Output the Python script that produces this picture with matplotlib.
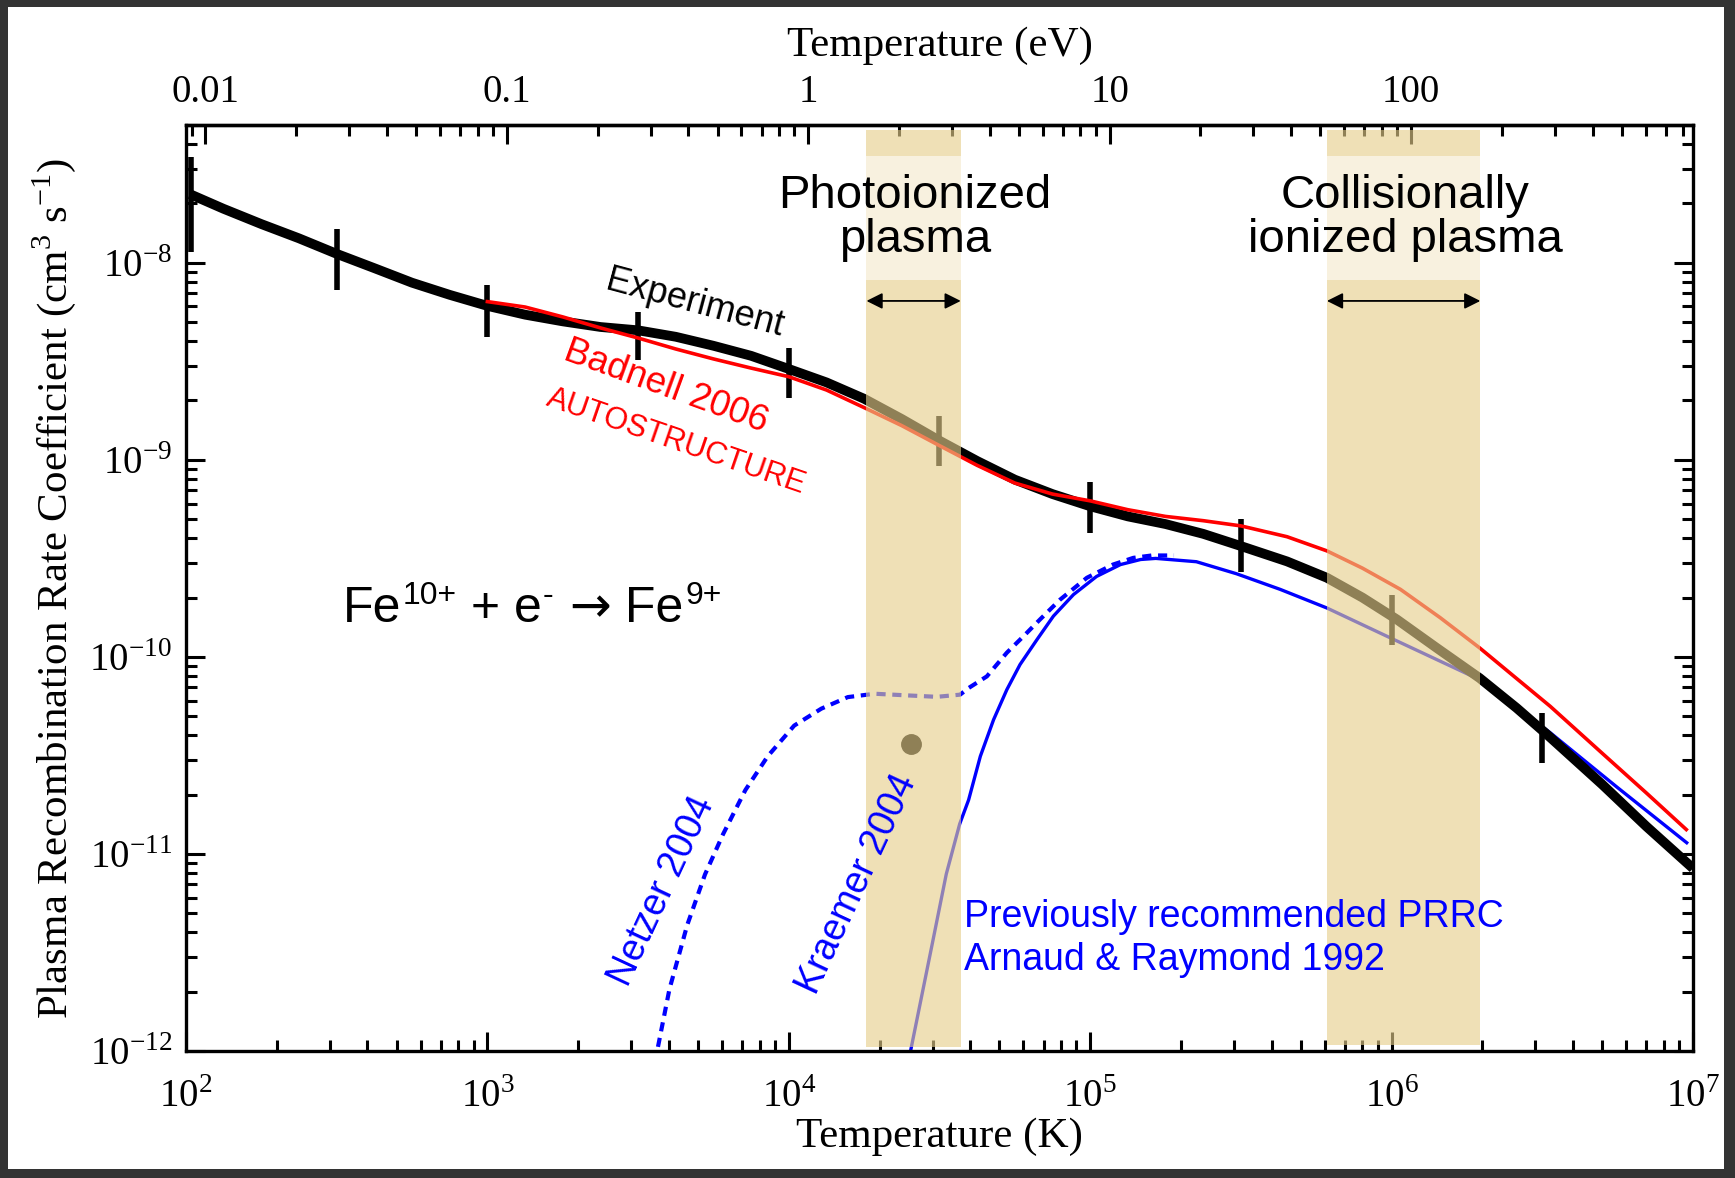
import numpy as np
import matplotlib.pyplot as plt
from matplotlib.patches import Rectangle
from matplotlib.ticker import FuncFormatter, FixedLocator, LogLocator, NullFormatter

plt.rcParams['font.family'] = ['Liberation Serif', 'DejaVu Serif']
plt.rcParams['mathtext.fontset'] = 'custom'
plt.rcParams['mathtext.rm'] = 'Liberation Serif'
SANS = ['Liberation Sans', 'DejaVu Sans']

# experiment (thick black curve) -- temperature in K, rate in cm^3 s^-1
exp_T = [103, 133, 178, 237, 316, 422, 562, 750, 1000, 1334, 1778, 2371, 3162, 4217,
         5623, 7499, 1.0e4, 1.334e4, 1.778e4, 2.371e4, 3.162e4, 4.217e4, 5.623e4,
         7.499e4, 1.0e5, 1.334e5, 1.778e5, 2.371e5, 3.162e5, 4.5e5, 6.1e5, 8.0e5,
         1.04e6, 1.4e6, 1.96e6, 2.6e6, 3.27e6, 5.0e6, 7.0e6, 1.0e7]
exp_R = [2.23e-8, 1.88e-8, 1.57e-8, 1.33e-8, 1.11e-8, 9.38e-9, 7.92e-9, 6.87e-9,
         6.04e-9, 5.45e-9, 5.04e-9, 4.72e-9, 4.54e-9, 4.21e-9, 3.79e-9, 3.37e-9,
         2.89e-9, 2.47e-9, 2.04e-9, 1.61e-9, 1.25e-9, 9.86e-10, 7.93e-10, 6.70e-10,
         5.81e-10, 5.16e-10, 4.72e-10, 4.21e-10, 3.65e-10, 3.05e-10, 2.52e-10, 2.0e-10,
         1.55e-10, 1.12e-10, 7.8e-11, 5.5e-11, 4.05e-11, 2.25e-11, 1.38e-11, 8.45e-12]

# experimental points with error bars
pt_T = [104, 316, 1000, 3162, 1.0e4, 3.162e4, 1.0e5, 3.162e5, 1.0e6, 3.162e6]
pt_R = [2.2e-8, 1.1e-8, 5.9e-9, 4.45e-9, 2.8e-9, 1.24e-9, 5.9e-10, 3.65e-10, 1.55e-10, 3.84e-11]
pt_lo = [1.14e-8, 7.3e-9, 4.2e-9, 3.2e-9, 2.07e-9, 9.25e-10, 4.26e-10, 2.71e-10, 1.15e-10, 2.89e-11]
pt_hi = [3.42e-8, 1.49e-8, 7.7e-9, 5.6e-9, 3.69e-9, 1.66e-9, 7.7e-10, 5.0e-10, 2.07e-10, 5.16e-11]

# Badnell 2006 AUTOSTRUCTURE (red)
bad_T = [1000, 1334, 1778, 2371, 3162, 4217, 5623, 7499, 1.0e4, 1.334e4, 1.778e4,
         2.371e4, 3.162e4, 4.217e4, 5.623e4, 7.499e4, 1.0e5, 1.334e5, 1.778e5,
         2.371e5, 3.162e5, 4.5e5, 6.1e5, 8.0e5, 1.07e6, 1.45e6, 1.96e6, 2.6e6,
         3.36e6, 5.0e6, 7.0e6, 9.5e6]
bad_R = [6.35e-9, 5.96e-9, 5.31e-9, 4.67e-9, 4.15e-9, 3.65e-9, 3.25e-9, 2.92e-9,
         2.64e-9, 2.26e-9, 1.84e-9, 1.49e-9, 1.18e-9, 9.37e-10, 7.62e-10, 6.70e-10,
         6.19e-10, 5.58e-10, 5.16e-10, 4.91e-10, 4.62e-10, 4.07e-10, 3.45e-10,
         2.82e-10, 2.2e-10, 1.58e-10, 1.11e-10, 7.76e-11, 5.61e-11, 3.24e-11,
         2.04e-11, 1.33e-11]

# Arnaud & Raymond 1992 (blue solid)
ar_T = [2.535e4, 3.0e4, 3.33e4, 3.69e4, 3.95e4, 4.32e4, 4.78e4, 5.29e4, 5.85e4, 6.65e4,
        7.55e4, 8.8e4, 1.05e5, 1.26e5, 1.47e5, 1.65e5, 2.25e5, 3.06e5, 4.27e5, 6.1e5,
        1.0e6, 1.96e6, 3.36e6, 5.6e6, 9.53e6]
ar_R = [1.0e-12, 3.57e-12, 7.9e-12, 1.42e-11, 1.88e-11, 3.13e-11, 4.80e-11, 6.82e-11,
        9.14e-11, 1.22e-10, 1.61e-10, 2.07e-10, 2.56e-10, 2.94e-10, 3.12e-10, 3.16e-10,
        3.04e-10, 2.64e-10, 2.2e-10, 1.77e-10, 1.24e-10, 7.66e-11, 4.12e-11, 2.18e-11,
        1.14e-11]

# Netzer 2004 (blue dashed)
net_T = [3681, 4018, 4603, 5272, 6053, 7178, 8511, 1.042e4, 1.282e4, 1.570e4, 1.928e4,
         2.449e4, 3.1e4, 3.7e4, 3.95e4, 4.54e4, 5.29e4, 6.0e4, 6.82e4, 7.94e4, 9.75e4,
         1.19e5, 1.39e5, 1.6e5, 1.897e5]
net_R = [1.05e-12, 2.06e-12, 4.36e-12, 7.87e-12, 1.26e-11, 2.11e-11, 3.13e-11, 4.48e-11,
         5.46e-11, 6.25e-11, 6.50e-11, 6.38e-11, 6.27e-11, 6.43e-11, 6.95e-11, 7.96e-11,
         1.05e-10, 1.27e-10, 1.55e-10, 1.95e-10, 2.52e-10, 2.94e-10, 3.18e-10, 3.27e-10,
         3.27e-10]

# Kraemer 2004 single value
kr_T = [2.535e4]
kr_R = [3.6e-11]

# temperature ranges of the plasma types (K)
photo_range = (1.81e4, 3.72e4)
coll_range = (6.1e5, 1.97e6)

fig = plt.figure(figsize=(17.35, 11.78), dpi=100)
fig.patch.set_facecolor('#333333')
fig.patches.append(Rectangle((8 / 1735, 9 / 1178), 1 - 19 / 1735, 1 - 16 / 1178,
                             transform=fig.transFigure, facecolor='white',
                             edgecolor='none', zorder=0))
ax = fig.add_axes([0.1072, 0.1078, 0.8686, 0.7861])
ax.set_zorder(2)
ax.patch.set_alpha(0)

ax.plot(exp_T, exp_R, color='black', lw=7, solid_capstyle='butt', zorder=3)
ax.errorbar(pt_T, pt_R, yerr=[np.array(pt_R) - np.array(pt_lo), np.array(pt_hi) - np.array(pt_R)],
            fmt='none', ecolor='black', elinewidth=4, capsize=0, zorder=3)
ax.plot(bad_T, bad_R, color='red', lw=2.6, zorder=4)
ax.plot(ar_T, ar_R, color='blue', lw=2.4, zorder=2)
ax.plot(net_T, net_R, color='blue', lw=3, ls=(0, (2.2, 1.6)), zorder=2)
ax.plot(kr_T, kr_R, 'o', color='black', ms=14, zorder=2)

band = '#e6ce8b'
ax.axvspan(*photo_range, ymin=0.004, ymax=0.995, color=band, alpha=0.625, lw=0, zorder=5)
ax.axvspan(*coll_range, ymin=0.006, ymax=0.995, color=band, alpha=0.625, lw=0, zorder=5)

ax.set_xscale('log')
ax.set_yscale('log')
ax.set_xlim(100, 1e7)
ax.set_ylim(1e-12, 5.0e-8)

sup = FuncFormatter(lambda v, p: r'10$^{\mathregular{%d}}$' % round(np.log10(v)))
ax.xaxis.set_major_formatter(sup)
ax.yaxis.set_major_formatter(sup)
ax.xaxis.set_minor_formatter(NullFormatter())
ax.yaxis.set_minor_formatter(NullFormatter())
ax.yaxis.set_major_locator(FixedLocator([1e-12, 1e-11, 1e-10, 1e-9, 1e-8]))
ax.yaxis.set_minor_locator(LogLocator(base=10, subs=np.arange(2, 10), numticks=20))
ax.tick_params(which='both', direction='in', top=False, right=True, width=2.2, labelsize=28)
ax.tick_params(which='major', length=14)
ax.tick_params(which='minor', length=8)
ax.tick_params(axis='x', pad=20)
ax.tick_params(axis='y', pad=10)
for s in ax.spines.values():
    s.set_linewidth(2.4)

ax.set_xlabel('Temperature (K)', fontsize=31, labelpad=1)
ax.set_ylabel(r'Plasma Recombination Rate Coefficient (cm$^{\mathregular{3}}$ s$^{\mathregular{-1}}$)',
              fontsize=31, labelpad=8)

K_PER_EV = 11604.5
top = ax.secondary_xaxis('top', functions=(lambda t: t / K_PER_EV, lambda e: e * K_PER_EV))
top.xaxis.set_major_locator(FixedLocator([0.01, 0.1, 1, 10, 100]))
top.xaxis.set_minor_locator(LogLocator(base=10, subs=np.arange(2, 10), numticks=20))
top.xaxis.set_major_formatter(FuncFormatter(lambda v, p: '%g' % v))
top.xaxis.set_minor_formatter(NullFormatter())
top.tick_params(which='both', direction='in', width=2.2, labelsize=28, pad=10)
top.tick_params(which='major', length=14)
top.tick_params(which='minor', length=8)
top.spines['top'].set_linewidth(2.4)
top.set_xlabel('Temperature (eV)', fontsize=31, labelpad=13)

# annotations
box = dict(facecolor='white', alpha=0.57, edgecolor='none', pad=13)
ax.text(2.62e4, 1.68e-8, 'Photoionized\nplasma', family=SANS, fontsize=34, ha='center',
        va='center', linespacing=1.0, bbox=box, zorder=6)
ax.text(1.11e6, 1.68e-8, 'Collisionally\nionized plasma', family=SANS, fontsize=34,
        ha='center', va='center', linespacing=1.0, bbox=box, zorder=6)
for lo, hi in (photo_range, coll_range):
    ax.annotate('', xy=(hi, 6.4e-9), xytext=(lo, 6.4e-9),
                arrowprops=dict(arrowstyle='<|-|>', color='black', lw=1.3,
                                shrinkA=0, shrinkB=0, mutation_scale=24), zorder=7)

ax.text(4.89e3, 6.19e-9, 'Experiment', family=SANS, fontsize=26, rotation=-15,
        ha='center', va='center', zorder=6)
ax.text(3.92e3, 2.35e-9, 'Badnell 2006', family=SANS, fontsize=26.5, rotation=-20,
        ha='center', va='center', color='red', zorder=6)
ax.text(4.23e3, 1.23e-9, 'AUTOSTRUCTURE', family=SANS, fontsize=22, rotation=-19,
        ha='center', va='center', color='red', zorder=6)
ax.text(3.79e3, 6.5e-12, 'Netzer 2004', family=SANS, fontsize=27, rotation=65,
        ha='center', va='center', color='blue', zorder=6)
ax.text(1.69e4, 7.0e-12, 'Kraemer 2004', family=SANS, fontsize=27, rotation=65,
        ha='center', va='center', color='blue', zorder=6)
ax.text(3.81e4, 3.74e-12, 'Previously recommended PRRC\nArnaud & Raymond 1992', family=SANS,
        fontsize=27, ha='left', va='center', color='blue', linespacing=1.25, zorder=6)

# reaction label: pieces placed one after another on a common baseline,
# superscripts smaller and raised
eq_x, eq_y = 332, 1.51e-10
pieces = [('Fe', 0, SANS), ('10+', 1, SANS), (' + e', 0, SANS), ('-', 1, SANS),
          (' \u2192', 0, ['DejaVu Sans']), (' Fe', 0, SANS), ('9+', 1, SANS)]
prev = ax.text(eq_x, eq_y, pieces[0][0], family=SANS, fontsize=36, ha='left',
               va='baseline', zorder=6)
for s, is_sup, fam in pieces[1:]:
    prev = ax.annotate(s, xy=(1, eq_y), xycoords=(prev, 'data'),
                       xytext=(1 if is_sup else 0, 12.5 if is_sup else 0),
                       textcoords='offset points', family=fam,
                       fontsize=23 if is_sup else 36, ha='left', va='baseline', zorder=6)

fig.savefig('out.png', dpi=100, facecolor=fig.get_facecolor())
